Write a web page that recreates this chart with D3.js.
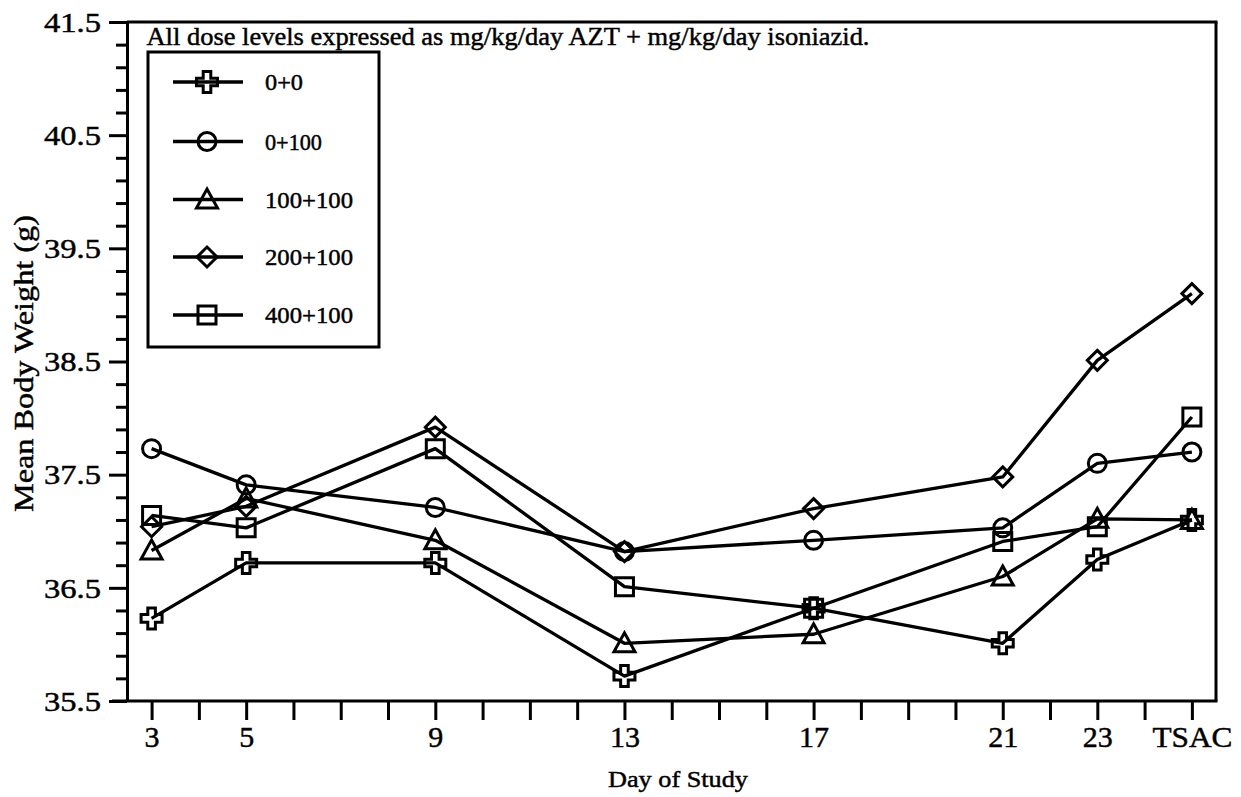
<!DOCTYPE html>
<html>
<head>
<meta charset="utf-8">
<script src="https://cdn.jsdelivr.net/npm/d3@7"></script>
<style>
  html, body { margin: 0; padding: 0; background: #fff; }
  svg { display: block; }
  text { font-family: "Liberation Serif", "Times New Roman", Times, serif; fill: #000; stroke: #000; stroke-width: 0.45px; }
</style>
</head>
<body>
<svg id="chart" width="1241" height="797"></svg>
<script>
// ---- data ----
const dayPositions = [3, 5, 9, 13, 17, 21, 23, 25];
const dayLabels = ["3", "5", "9", "13", "17", "21", "23", "TSAC"];
const seriesNames = ["0+0", "0+100", "100+100", "200+100", "400+100"];
const seriesShapes = ["cross", "circle", "triangle", "diamond", "square"];
const dose0_0     = [36.23, 36.72, 36.72, 35.72, 36.32, 36.01, 36.75, 37.10];
const dose0_100   = [37.73, 37.41, 37.21, 36.82, 36.92, 37.03, 37.60, 37.70];
const dose100_100 = [36.83, 37.29, 36.92, 36.01, 36.09, 36.60, 37.11, 37.10];
const dose200_100 = [37.04, 37.22, 37.92, 36.82, 37.20, 37.48, 38.51, 39.10];
const dose400_100 = [37.14, 37.03, 37.73, 36.51, 36.32, 36.91, 37.04, 38.01];
const yMajorTicks = [35.5, 36.5, 37.5, 38.5, 39.5, 40.5, 41.5];
const yMinorTicks = d3.range(35.7, 41.5, 0.2).map(v => +v.toFixed(1)).filter(v => !yMajorTicks.includes(v));
const xTickDays = d3.range(3, 26);
const noteText = "All dose levels expressed as mg/kg/day AZT + mg/kg/day isoniazid.";
const xTitle = "Day of Study";
const yTitle = "Mean Body Weight (g)";

const allSeries = [dose0_0, dose0_100, dose100_100, dose200_100, dose400_100];

// ---- layout ----
const svg = d3.select("#chart");
const plotLeft = 127, plotRight = 1216, plotTop = 22, plotBottom = 701;

const x = d3.scaleLinear().domain([2.48, 25.51]).range([plotLeft, plotRight]);
const y = d3.scaleLinear().domain([35.5, 41.5]).range([plotBottom, plotTop]);

const labelOf = new Map(dayPositions.map((d, i) => [d, dayLabels[i]]));

// marker paths centered at 0,0
function shapePath(type) {
  switch (type) {
    case "circle": {
      const r = 9;
      return `M${r},0A${r},${r} 0 1,1 ${-r},0A${r},${r} 0 1,1 ${r},0Z`;
    }
    case "square": {
      const h = 9;
      return `M${-h},${-h}H${h}V${h}H${-h}Z`;
    }
    case "diamond": {
      const h = 10;
      return `M0,${-h}L${h},0L0,${h}L${-h},0Z`;
    }
    case "triangle": {
      return `M0,-10.5L10.5,8.5L-10.5,8.5Z`;
    }
    case "cross": {
      const a = 3.8, L = 10.5;
      return `M${-a},${-L}H${a}V${-a}H${L}V${a}H${a}V${L}H${-a}V${a}H${-L}V${-a}H${-a}Z`;
    }
  }
}

// ---- frame ----
svg.append("line").attr("x1", plotLeft).attr("x2", plotRight + 1.5).attr("y1", plotTop).attr("y2", plotTop)
  .attr("stroke", "#000").attr("stroke-width", 3);
svg.append("line").attr("x1", plotRight).attr("x2", plotRight).attr("y1", plotTop).attr("y2", plotBottom)
  .attr("stroke", "#000").attr("stroke-width", 3);

// ---- y axis ----
const yAxisMajor = svg.append("g").attr("transform", `translate(${plotLeft},0)`)
  .call(d3.axisLeft(y).tickValues(yMajorTicks).tickSize(18).tickSizeOuter(0).tickPadding(8).tickFormat(d3.format(".1f")));
yAxisMajor.select(".domain").attr("stroke-width", 3);
yAxisMajor.selectAll(".tick line").attr("stroke-width", 3);
yAxisMajor.selectAll(".tick text")
  .attr("font-size", 27)
  .attr("textLength", 57).attr("lengthAdjust", "spacingAndGlyphs").attr("dy", "0.34em");

const yAxisMinor = svg.append("g").attr("transform", `translate(${plotLeft},0)`)
  .call(d3.axisLeft(y).tickValues(yMinorTicks).tickSize(11).tickSizeOuter(0).tickFormat(""));
yAxisMinor.select(".domain").remove();
yAxisMinor.selectAll(".tick line").attr("stroke-width", 3);

// ---- x axis ----
const xAxis = svg.append("g").attr("transform", `translate(0,${plotBottom})`)
  .call(d3.axisBottom(x).tickValues(xTickDays).tickSize(19).tickSizeOuter(0).tickPadding(6)
    .tickFormat(d => labelOf.has(d) ? labelOf.get(d) : ""));
xAxis.select(".domain").attr("stroke-width", 3).attr("d", `M${plotLeft - 15},0H${plotRight + 1.5}`);
xAxis.selectAll(".tick line").attr("stroke-width", 3);
xAxis.selectAll(".tick text")
  .attr("font-size", 30)
  .attr("dy", "0.71em")
  .each(function(d) {
    if (labelOf.get(d) === "TSAC") d3.select(this).attr("textLength", 80).attr("lengthAdjust", "spacingAndGlyphs");
  });

// ---- titles ----
svg.append("text").attr("x", 678).attr("y", 787).attr("text-anchor", "middle")
  .attr("font-size", 23).attr("textLength", 140).attr("lengthAdjust", "spacingAndGlyphs").text(xTitle);
svg.append("text").attr("transform", `translate(33,${363.5}) rotate(-90)`).attr("text-anchor", "middle")
  .attr("font-size", 27).attr("textLength", 297).attr("lengthAdjust", "spacingAndGlyphs").text(yTitle);
svg.append("text").attr("x", 146.5).attr("y", 45)
  .attr("font-size", 25).attr("textLength", 723).attr("lengthAdjust", "spacingAndGlyphs").text(noteText);

// ---- series ----
const line = d3.line().x(d => x(d[0])).y(d => y(d[1]));
allSeries.forEach((vals, si) => {
  const pts = dayPositions.map((d, i) => [d, vals[i]]);
  svg.append("path").datum(pts).attr("d", line)
    .attr("fill", "none").attr("stroke", "#000").attr("stroke-width", 3.3).attr("stroke-linejoin", "round");
  svg.append("g").selectAll("path").data(pts).join("path")
    .attr("transform", d => `translate(${x(d[0])},${y(d[1])})`)
    .attr("d", shapePath(seriesShapes[si]))
    .attr("fill", "none").attr("stroke", "#000").attr("stroke-width", 3);
});

// ---- legend ----
const legend = svg.append("g");
legend.append("rect").attr("x", 148).attr("y", 52).attr("width", 231).attr("height", 295)
  .attr("fill", "#fff").attr("stroke", "#000").attr("stroke-width", 3);
const legendRowY = [82, 141.5, 199.5, 257, 315];
const legendLabelWidths = [38, 57, 88, 88, 88];
seriesNames.forEach((name, i) => {
  const ly = legendRowY[i];
  legend.append("line").attr("x1", 173).attr("x2", 243).attr("y1", ly).attr("y2", ly)
    .attr("stroke", "#000").attr("stroke-width", 3.3);
  legend.append("path").attr("transform", `translate(207,${ly})`).attr("d", shapePath(seriesShapes[i]))
    .attr("fill", "none").attr("stroke", "#000").attr("stroke-width", 3);
  legend.append("text").attr("x", 265).attr("y", ly + 8)
    .attr("font-size", 23).attr("textLength", legendLabelWidths[i]).attr("lengthAdjust", "spacingAndGlyphs").text(name);
});
</script>
</body>
</html>
